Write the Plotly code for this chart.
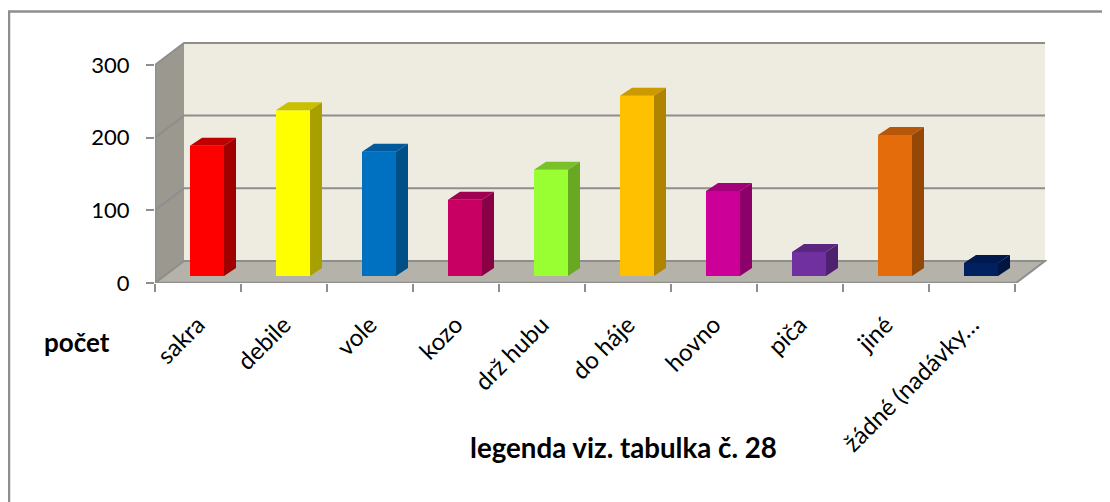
import plotly.graph_objects as go

categories = ["sakra", "debile", "vole", "kozo", "drž hubu", "do háje", "hovno", "piča", "jiné", "žádné (nadávky…"]
values = [179, 228, 171, 105, 146, 248, 117, 33, 194, 18]
front_colors = ["#ff0000", "#ffff00", "#0070c0", "#c80064", "#99ff33", "#ffc000", "#cc0099", "#7030a0", "#e46c0a", "#002060"]
top_colors = ["#c00000", "#c8c000", "#005a9c", "#a00050", "#7ac028", "#cc9a00", "#a3007a", "#5a2680", "#b65608", "#001a4d"]
side_colors = ["#a00000", "#a8a000", "#004f86", "#8a0045", "#68a822", "#b08400", "#8c0069", "#4e2070", "#954706", "#001540"]
y_ticks = [0, 100, 200, 300]

PAGE_MARGIN = 8
FIG_W, FIG_H = 1110, 502
ML, MT = 155 - PAGE_MARGIN, 40 - PAGE_MARGIN
PLOT_W, PLOT_H = 892, 243
PX_X = 86.0
PX_Y = 0.727
X0 = -0.5
X_WALL = X0 + 890 / PX_X
X_END = X0 + PLOT_W / PX_X
Y_END = PLOT_H / PX_Y
WALL_DX = 29 / PX_X
WALL_DY = 22 / PX_Y
BAR_SHIFT = 9 / PX_X
BAR_LIFT = 7 / PX_Y
BAR_W = 34 / PX_X
BAR_DX = 12 / PX_X
BAR_DY = 8 / PX_Y
GRID = "#8e8e8e"


def px(x):
    return (x - PAGE_MARGIN - ML) / PLOT_W


def py(y):
    return 1 - (y - PAGE_MARGIN - MT) / PLOT_H


fig = go.Figure()

x_bar = [i + BAR_SHIFT for i in range(len(values))]
fig.add_trace(go.Bar(x=x_bar, y=values, base=BAR_LIFT, width=BAR_W, marker=dict(color=front_colors, line_width=0),
                     hoverinfo="skip", showlegend=False))

for xc, v, tc, sc in zip(x_bar, values, top_colors, side_colors):
    l, r = xc - BAR_W / 2, xc + BAR_W / 2
    t = v + BAR_LIFT
    fig.add_trace(go.Scatter(x=[l, r, r + BAR_DX, l + BAR_DX, l], y=[t, t, t + BAR_DY, t + BAR_DY, t],
                             mode="lines", fill="toself", fillcolor=tc, line=dict(width=0), hoverinfo="skip", showlegend=False))
    fig.add_trace(go.Scatter(x=[r, r + BAR_DX, r + BAR_DX, r, r], y=[BAR_LIFT, BAR_LIFT + BAR_DY, t + BAR_DY, t, BAR_LIFT],
                             mode="lines", fill="toself", fillcolor=sc, line=dict(width=0), hoverinfo="skip", showlegend=False))

XR = X_WALL - WALL_DX
TOP = y_ticks[-1]


def path(pts):
    return "M " + " L ".join(f"{x},{y}" for x, y in pts) + " Z"


shapes = [
    dict(type="path", path=path([(X0 + WALL_DX, WALL_DY), (X_WALL, WALL_DY), (X_WALL, TOP + WALL_DY), (X0 + WALL_DX, TOP + WALL_DY)]),
         fillcolor="#eeebe0", line_width=0, layer="below"),
    dict(type="path", path=path([(X0, 0), (X0 + WALL_DX, WALL_DY), (X0 + WALL_DX, TOP + WALL_DY), (X0, TOP)]),
         fillcolor="#9b9890", line_width=0, layer="below"),
    dict(type="path", path=path([(X0, 0), (X0 + WALL_DX, WALL_DY), (X_WALL, WALL_DY), (XR, 0)]),
         fillcolor="#b5b2aa", line_width=0, layer="below"),
]
for v in y_ticks:
    pts = [(X0, v), (X0 + WALL_DX, v + WALL_DY)] + ([(X_WALL, v + WALL_DY)] if v else [(X_WALL, WALL_DY), (XR, 0)])
    shapes.append(dict(type="path", path="M " + " L ".join(f"{x},{y}" for x, y in pts),
                       line=dict(color=GRID, width=2), layer="below"))
shapes.append(dict(type="line", x0=X0, x1=XR, y0=0, y1=0, line=dict(color=GRID, width=2.5), layer="below"))
shapes.append(dict(type="line", x0=X0, x1=X0, y0=0, y1=TOP, line=dict(color=GRID, width=2.5), layer="below"))
# outer chart frame: left and top edges only, running off the page
shapes.append(dict(type="path", xref="paper", yref="paper",
                   path=f"M {px(9)},{py(520)} L {px(9)},{py(11.5)} L {px(1130)},{py(11.5)}",
                   line=dict(color=GRID, width=2.5), layer="below"))

fig.update_layout(
    width=FIG_W, height=FIG_H, autosize=False,
    margin=dict(l=ML, r=FIG_W - ML - PLOT_W, t=MT, b=FIG_H - MT - PLOT_H),
    paper_bgcolor="white", plot_bgcolor="white",
    font=dict(family="Lato, Carlito, sans-serif", color="black"),
    showlegend=False, barmode="overlay", shapes=shapes,
    xaxis=dict(range=[X0, X_END], showgrid=False, zeroline=False, showline=False,
               tickmode="array", tickvals=list(range(len(categories))), ticktext=categories,
               tickangle=-45, tickfont=dict(size=24), ticks="", ticklabelstandoff=22,
               minor=dict(tickmode="array", tickvals=[X0 + i for i in range(len(categories) + 1)],
                          ticks="outside", ticklen=8, tickwidth=2, tickcolor=GRID, showgrid=False)),
    yaxis=dict(range=[0, Y_END], showgrid=False, zeroline=False, showline=False,
               tickmode="array", tickvals=y_ticks, ticks="outside", ticklen=8, tickwidth=2, tickcolor=GRID,
               tickfont=dict(size=22), ticklabelstandoff=12),
    annotations=[
        dict(text="<b>počet</b>", xref="paper", yref="paper", x=px(42), y=py(342), xanchor="left", yanchor="middle", showarrow=False, font=dict(size=26)),
        dict(text="<b>legenda viz. tabulka č. 28</b>", xref="paper", yref="paper", x=px(623.5), y=py(447), xanchor="center", yanchor="middle", showarrow=False, font=dict(size=27.7)),
    ],
)
fig.write_html("out.html")
